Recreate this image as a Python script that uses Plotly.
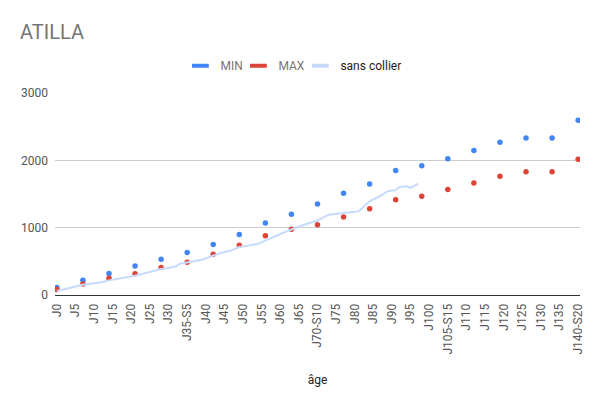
import plotly.graph_objects as go

# Weekly reference points (days 0..140 every 7 days)
week_days = [0, 7, 14, 21, 28, 35, 42, 49, 56, 63, 70, 77, 84, 91, 98, 105, 112, 119, 126, 133, 140]
min_vals = [110, 220, 320, 430, 530, 630, 750, 900, 1070, 1200, 1350, 1510, 1650, 1850, 1920,
            2025, 2145, 2270, 2330, 2330, 2595]
max_vals = [80, 165, 250, 315, 410, 485, 605, 740, 880, 975, 1045, 1160, 1280, 1415, 1465,
            1565, 1665, 1765, 1830, 1830, 2015]

# "sans collier" measurements
line_days = [0, 7, 12, 14, 21, 24, 28, 30, 32, 33, 35, 39, 42, 44, 47, 49, 54, 57, 60, 63, 66,
             70, 73, 77, 81, 84, 87, 89, 91, 92, 94, 95, 97]
line_vals = [60, 153, 188, 217, 287, 327, 386, 401, 425, 465, 482, 524, 584, 624, 663, 713, 760,
             835, 906, 972, 1035, 1106, 1193, 1218, 1242, 1391, 1475, 1545, 1557, 1605, 1614,
             1590, 1649]

tick_days = list(range(0, 141, 5))
tick_labels = ["J0", "J5", "J10", "J15", "J20", "J25", "J30", "J35-S5", "J40", "J45", "J50",
               "J55", "J60", "J65", "J70-S10", "J75", "J80", "J85", "J90", "J95", "J100",
               "J105-S15", "J110", "J115", "J120", "J125", "J130", "J135", "J140-S20"]

BLUE = "#4285F4"
RED = "#DB4437"
LIGHT = "#C6DAFC"
FONT = "Roboto"

fig = go.Figure()
fig.add_trace(go.Scatter(x=week_days, y=min_vals, mode="markers", name="MIN",
                         marker=dict(color=BLUE, size=5.5), showlegend=False))
fig.add_trace(go.Scatter(x=week_days, y=max_vals, mode="markers", name="MAX",
                         marker=dict(color=RED, size=5.5), showlegend=False))
fig.add_trace(go.Scatter(x=line_days, y=line_vals, mode="lines", name="sans collier",
                         line=dict(color=LIGHT, width=2), showlegend=False))

# legend swatches, one small legend per entry
legend_items = [("MIN", BLUE, "#757575", "legend"),
                ("MAX", RED, "#757575", "legend2"),
                ("sans collier", LIGHT, "#222222", "legend3")]
for nm, col, tcol, lg in legend_items:
    fig.add_trace(go.Scatter(x=[None], y=[None], mode="markers", name=nm, legend=lg,
                             marker=dict(symbol="line-ew", size=12, color=col,
                                         line=dict(color=col, width=4))))

PL, PW = 54.6, 525.0  # plot left edge / width in px


def leg(text_px, tcol):
    return dict(orientation="h", x=(text_px - 40 - PL) / PW, xanchor="left",
                y=1.135, yanchor="middle", itemwidth=30,
                font=dict(family=FONT, size=12, color=tcol), bgcolor="rgba(0,0,0,0)")


fig.update_layout(
    width=600, height=407,
    margin=dict(l=PL, r=20.4, t=93.3, b=111.7),
    paper_bgcolor="white", plot_bgcolor="white",
    font=dict(family=FONT, size=12, color="#222"),
    title=dict(text="ATILLA", x=20 / 600, xanchor="left", xref="container",
               y=1 - 32 / 407, yanchor="middle", yref="container",
               font=dict(family=FONT, size=20, color="#757575")),
    legend=leg(220, "#757575"),
    legend2=leg(278, "#757575"),
    legend3=leg(340, "#222222"),
    showlegend=True,
)
fig.update_xaxes(
    range=[-0.5, 140.5], tickmode="array", tickvals=tick_days, ticktext=tick_labels,
    tickangle=-90, tickfont=dict(family=FONT, size=12, color="#555"),
    showgrid=False, zeroline=False, showline=True, linecolor="#333", linewidth=1,
    ticks="", ticklabelstandoff=3,
    title=dict(text="âge", font=dict(family=FONT, size=12, color="#222"), standoff=22),
    automargin=False,
)
fig.update_yaxes(
    range=[0, 3000], tickvals=[0, 1000, 2000, 3000],
    tickfont=dict(family=FONT, size=12, color="#555"),
    showgrid=True, gridcolor="#cccccc", gridwidth=1, zeroline=False,
    ticks="", ticklabelstandoff=6, automargin=False,
)

fig.write_html("out.html", config={"displayModeBar": False},
               post_script="document.body.style.margin='0';")
